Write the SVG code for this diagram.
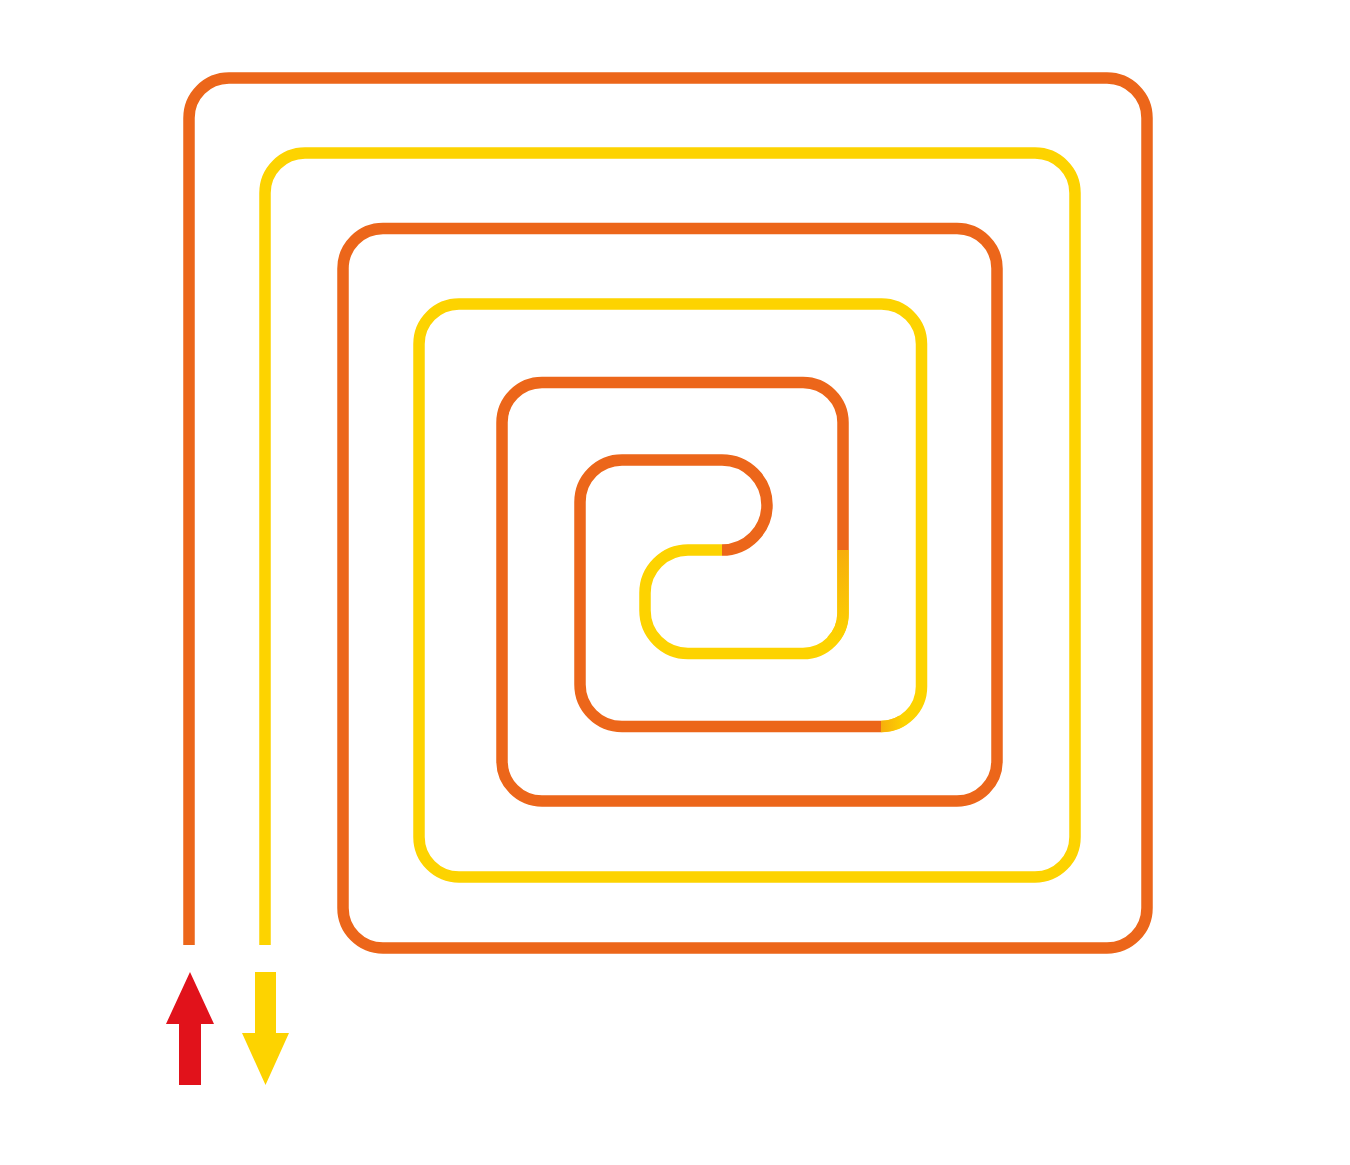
<svg xmlns="http://www.w3.org/2000/svg" width="1350" height="1165" viewBox="0 0 1350 1165">
  <defs>
    <linearGradient id="gv" gradientUnits="userSpaceOnUse" x1="0" y1="550" x2="0" y2="642">
      <stop offset="0" stop-color="#F7AE0C"/>
      <stop offset="1" stop-color="#FDD300"/>
    </linearGradient>
    <linearGradient id="gh" gradientUnits="userSpaceOnUse" x1="881" y1="0" x2="905" y2="0">
      <stop offset="0" stop-color="#F7AE0C"/>
      <stop offset="1" stop-color="#FDD300"/>
    </linearGradient>
  </defs>
  <style>
    .pipe { fill: none; stroke-width: 11.5; stroke-linecap: butt; stroke-linejoin: round; }
    .or { stroke: #EC661A; }
    .ye { stroke: #FDD300; }
  </style>
  <rect width="1350" height="1165" fill="#FFFFFF"/>
  <g id="pipes">
    <path id="return-loop" class="pipe or" d="M189,945 V118 A40,40 0 0 1 229,78 H1107 A40,40 0 0 1 1147,118 V908 A40,40 0 0 1 1107,948 H383 A40,40 0 0 1 343,908 V268.5 A40,40 0 0 1 383,228.5 H957 A40,40 0 0 1 997,268.5 V761 A40,40 0 0 1 957,801 H542 A40,40 0 0 1 502,761 V422.5 A40,40 0 0 1 542,382.5 H803 A40,40 0 0 1 843,422.5 V550"/>
    <path id="inner-yellow" class="pipe ye" d="M843,550 V613 A40,40 0 0 1 803,653.5 H688 A43,43 0 0 1 645,610.5 V593 A43,43 0 0 1 688,550 H722"/>
    <path id="blend-1" class="pipe" stroke="url(#gv)" d="M843,550 V613 A40,40 0 0 1 831.3,641.3"/>
    <path id="inner-orange" class="pipe or" d="M722,550 A45,45 0 0 0 722,460 H622 A42,42 0 0 0 580,502 V684.5 A42,42 0 0 0 622,726.5 H881"/>
    <path id="supply-loop" class="pipe ye" d="M881,726.5 A40,40 0 0 0 921.5,686.5 V344 A40,40 0 0 0 881.5,304 H459 A40,40 0 0 0 419,344 V837 A40,40 0 0 0 459,877 H1035 A40,40 0 0 0 1075,837 V193 A40,40 0 0 0 1035,153 H305 A40,40 0 0 0 265,193 V945"/>
    <path id="blend-2" class="pipe" stroke="url(#gh)" d="M881,726.5 A40,40 0 0 0 902,720.6"/>
  </g>
  <g id="arrow-up">
    <polygon points="190,972 214,1024 201,1024 201,1085 179,1085 179,1024 166,1024" fill="#E1121B"/>
  </g>
  <g id="arrow-down">
    <polygon points="255,972 276,972 276,1033 289,1033 265.5,1085 242,1033 255,1033" fill="#FDD300"/>
  </g>
</svg>
